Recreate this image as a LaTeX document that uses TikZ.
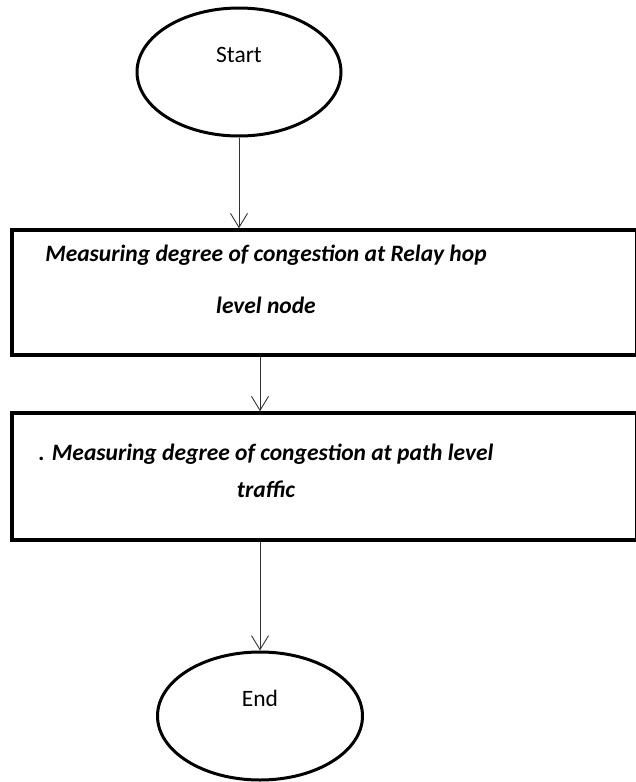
\documentclass[tikz,border=0pt]{standalone}
\usepackage{fontspec}
\setmainfont{Carlito}
\usepackage{tikz}
\usetikzlibrary{shapes.geometric,arrows.meta}

\begin{document}
\begin{tikzpicture}[x=1pt,y=-1pt,
        terminal/.style={draw,ellipse,line width=3pt,minimum width=204pt,minimum height=128pt,
            font=\fontsize{23.5}{28}\selectfont,text height=13pt,text depth=33pt},
        procbox/.style={draw,rectangle,line width=3.5pt,minimum width=625pt,inner sep=0pt},
        boxtext/.style={align=center,font=\fontsize{23.5}{37}\selectfont\bfseries\itshape},
        flow/.style={draw=black!80,line width=0.9pt,-{Straight Barb[length=14pt,width=17pt,line width=0.9pt]}}]
        \useasboundingbox (0,0) rectangle (635,782);
        \node[terminal] (start) at (239,72) {Start};
        \node[procbox,minimum height=125pt] (relay) at (324.5,292.5) {};
        \node[boxtext] (relaytext) at (266,279) {Measuring degree of congestion at Relay hop\\[15pt]level node};
        \node[procbox,minimum height=127pt] (pathbox) at (324.5,476.5) {};
        \node[boxtext] (pathtext) at (266,471) {. Measuring degree of congestion at path level\\traffic};
        \node[terminal,minimum width=205pt] (finish) at (260,716) {End};
        \draw[flow] (start.south) -- (start.south |- relay.north);
        \draw[flow] (relay.south -| finish.north) -- (pathbox.north -| finish.north);
        \draw[flow] (pathbox.south -| finish.north) -- (finish.north);
    \end{tikzpicture}
\end{document}
